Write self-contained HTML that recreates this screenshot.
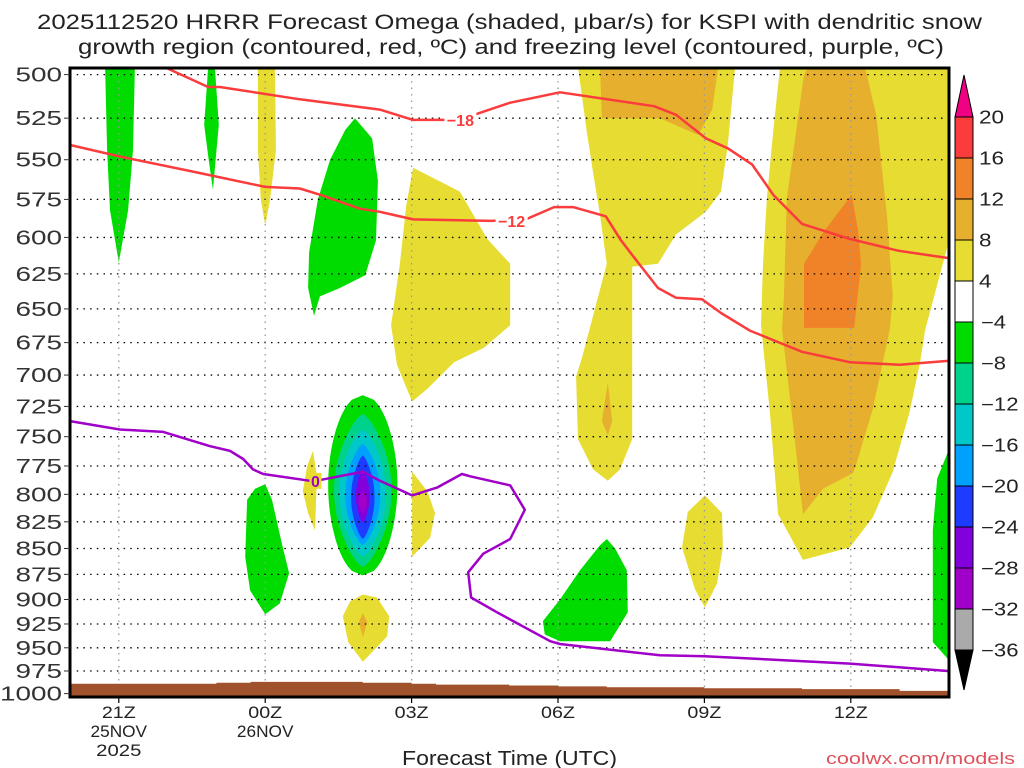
<!DOCTYPE html>
<html><head><meta charset="utf-8">
<style>
html,body{margin:0;padding:0;background:#fff;}
svg{display:block;font-family:"Liberation Sans",sans-serif;}
</style></head>
<body>
<svg id="chart" width="1024" height="768" viewBox="0 0 1024 768" xmlns="http://www.w3.org/2000/svg">
<text x="37" y="29" font-size="21" textLength="945" lengthAdjust="spacingAndGlyphs" fill="#222">2025112520 HRRR Forecast Omega (shaded, μbar/s) for KSPI with dendritic snow</text>
<text x="78" y="54" font-size="21" textLength="866" lengthAdjust="spacingAndGlyphs" fill="#222">growth region (contoured, red, ºC) and freezing level (contoured, purple, ºC)</text>
<g id="shade"></g>
<g id="grid"></g>
<g id="lines"></g>
<g id="axes"></g>
<g id="cbar"></g>
<text x="402" y="765" font-size="20" textLength="215" lengthAdjust="spacingAndGlyphs" fill="#222">Forecast Time (UTC)</text>
<text x="826" y="764" font-size="17" textLength="189" lengthAdjust="spacingAndGlyphs" fill="#e0505a">coolwx.com/models</text>
</svg>
<script>
// hours after 20Z 25 Nov; pressure in hPa
const pressureTicks=[500,525,550,575,600,625,650,675,700,725,750,775,800,825,850,875,900,925,950,975,1000];
const timeTicks=[1,4,7,10,13,16];
const timeLabels=[["21Z","25NOV","2025"],["00Z","26NOV"],["03Z"],["06Z"],["09Z"],["12Z"]];
const cbarLevels=[20,16,12,8,4,-4,-8,-12,-16,-20,-24,-28,-32,-36];
const cbarColors=["#fa3c3c","#f08228","#e6af2d","#e6dc32","#ffffff","#00dc00","#00d28c","#00c8c8","#00a0ff","#1e3cff","#8200dc","#a000c8","#aaaaaa"];
const shadeColors=["#e6dc32","#e6af2d","#f08228","#00dc00"];
const areaGreenA=[[0.72,496],[1.33,496],[1.29,544],[1.19,582],[1.0,617],[0.82,582],[0.76,544]];
const areaGreenB=[[2.83,496],[2.97,496],[3.05,529],[2.97,555],[2.93,569],[2.85,552],[2.75,529]];
const areaYellowC=[[3.85,496],[4.20,496],[4.22,544],[4.10,575],[4.0,592],[3.91,575],[3.85,544]];
const areaGreenD=[[5.84,525],[6.19,537],[6.31,563],[6.27,602],[6.05,626],[5.53,635],[5.12,641],[5.0,655],[4.88,635],[4.90,610],[5.08,575],[5.33,550],[5.64,532]];
const areaYellowE=[[7.03,555],[7.99,570],[8.55,601],[9.02,618],[9.02,662],[8.48,679],[7.87,690],[7.32,711],[7.01,721],[6.70,692],[6.58,662],[6.76,618],[6.89,579]];
const areaYellowG=[[10.41,496],[13.63,496],[13.48,541],[13.34,570],[13.03,583],[12.42,598],[12.05,618],[11.52,620],[11.52,752],[11.27,778],[11.02,788],[10.72,778],[10.41,752],[10.37,701],[10.49,687],[11.0,618],[10.86,585],[10.72,558],[10.59,533]];
const areaOrangeH=[[10.86,496],[13.28,496],[13.16,520],[12.87,535],[12.09,525],[10.90,525]];
const areaOrangeG2=[[11.02,706],[11.11,737],[11.02,749],[10.90,737]];
const areaYellowF=[[14.55,496],[17.99,496],[17.99,605],[17.52,666],[17.42,690],[17.21,729],[16.86,780],[16.45,821],[15.98,849],[15.02,861],[14.51,818],[14.34,729],[14.16,662],[14.20,618],[14.28,574],[14.41,533]];
const areaOrangeF2=[[15.12,496],[16.29,496],[16.52,523],[16.74,585],[16.86,641],[16.80,665],[16.45,727],[16.13,771],[16.05,781],[15.43,795],[15.02,818],[14.82,741],[14.59,665],[14.63,641],[14.69,574],[15.04,500]];
const areaDarkF3=[[16.02,572],[16.15,596],[16.21,618],[16.07,664],[15.04,664],[15.04,618],[15.45,596]];
const areaYellowI=[[13.01,801],[13.36,817],[13.38,849],[13.26,884],[13.01,908],[12.81,890],[12.54,849],[12.66,816]];
const areaGreenJ=[[9.69,922],[10.04,900],[10.45,871],[10.86,847],[11.0,841],[11.17,850],[11.41,871],[11.43,913],[11.07,943],[10.04,943],[9.73,936]];
const areaGreenK=[[17.99,763],[17.77,786],[17.68,833],[17.68,944],[17.99,962]];
const areaGreenL=[[4.0,791],[4.14,805],[4.34,845],[4.49,874],[4.30,904],[4.0,915],[3.69,891],[3.59,858],[3.63,805],[3.79,795]];
const areaYellowM=[[4.98,762],[5.06,784],[5.02,833],[4.88,817],[4.77,797],[4.86,775]];
const areaYellowN=[[7.01,780],[7.32,797],[7.48,817],[7.38,840],[7.01,858]];
const areaYellowO=[[6.0,895],[6.29,898],[6.54,917],[6.50,938],[6.0,965],[5.70,944],[5.59,917],[5.74,902]];
const areaOrangeO2=[[6.0,914],[6.09,923],[6.0,939],[5.92,923]];
const coreCenterHour=6.0;
const coreLevels=[[5,0.71,716,876],[6,0.59,731,868],[7,0.48,744,858],[8,0.36,756,847],[9,0.24,766,841],[10,0.14,778,826],[11,0.09,797,817]];
const lineMinus18=[[1.95,496],[2.83,507],[3.07,507],[4.71,514],[6.35,520],[7.03,526],[7.73,526],[8.28,523],[9.02,516],[10.04,510],[11.97,518],[12.42,523],[13.03,537],[13.48,543],[13.98,553],[14.41,572],[15.0,591],[15.98,601],[16.97,609],[17.99,614]];
const lineMinus12=[[0,541],[1.02,548],[2.46,557],[4.0,567],[4.71,568],[5.12,572],[5.94,581],[6.35,583],[7.03,588],[8.63,589],[9.34,588],[9.92,580],[10.31,580],[10.98,586],[11.29,602],[11.66,618],[12.05,635],[12.42,642],[12.95,643],[13.34,653],[13.93,666],[15.0,682],[15.98,690],[17.0,692],[17.99,689]];
const lineZero=[[0,737],[1.02,744],[1.91,746],[2.87,758],[3.28,762],[3.55,769],[3.75,778],[3.96,782],[4.92,788],[5.16,787],[5.88,781],[6.0,780],[6.35,788],[7.01,801],[7.52,794],[8.03,782],[8.20,784],[9.02,792],[9.32,814],[9.02,841],[8.47,855],[8.16,873],[8.22,898],[8.75,913],[9.84,943],[10.04,946],[12.09,958],[13.01,959],[15.98,967],[17.99,975]];
const labelMinus18=[8.0,526];
const labelMinus12=[9.05,589];
const labelZero=[5.03,788];
const surfHours=[0,1,2,3,3.7,5,6,7,7.5,8,9,10,11,12,13,14,15,16,17,18];
const surfP=[989,989,989,988,987,987,988,989,990,990,991,992,993,993,994,994,995,995,997,997];

const X0=70,X1=949,T0=68,B0=697;
function X(h){return X0+h*48.8;}
function Y(p){return 74.6+619*Math.log2(p/500);}
const NS="http://www.w3.org/2000/svg";
function mk(tag,parent,attrs){const e=document.createElementNS(NS,tag);for(const k in attrs)e.setAttribute(k,attrs[k]);parent.appendChild(e);return e;}
function pts(a){return a.map(d=>X(d[0]).toFixed(1)+","+Y(d[1]).toFixed(1)).join(" ");}

const shade=document.getElementById('shade');
const clip=mk('clipPath',mk('defs',document.getElementById('chart'),{}),{id:'plotclip'});
mk('rect',clip,{x:X0,y:T0,width:X1-X0,height:B0-T0});
shade.setAttribute('clip-path','url(#plotclip)');
const areas=[[0,areaYellowF],[1,areaOrangeF2],[2,areaDarkF3],[0,areaYellowG],[1,areaOrangeH],[1,areaOrangeG2],[0,areaYellowE],[0,areaYellowC],[3,areaGreenA],[3,areaGreenB],[3,areaGreenD],[0,areaYellowI],[3,areaGreenJ],[3,areaGreenK],[3,areaGreenL],[0,areaYellowM],[0,areaYellowN],[0,areaYellowO],[1,areaOrangeO2]];
areas.forEach(a=>{
  const e=mk('polygon',shade,{points:pts(a[1]),fill:shadeColors[a[0]]});
  
  
});
coreLevels.forEach((c,k)=>{
  const yt=Y(c[2]),yb=Y(c[3]),hw=c[1]*48.8,cx=X(coreCenterHour);const L=[],R=[];
  const ex=k===0?0.45:0.7;
  for(let i=0;i<=40;i++){const t=i/40;const y=yt+(yb-yt)*t;const w=hw*Math.pow(Math.sin(Math.PI*t),ex);L.push((cx-w).toFixed(1)+","+y.toFixed(1));R.unshift((cx+w).toFixed(1)+","+y.toFixed(1));}
  const e=mk('polygon',shade,{points:L.concat(R).join(" "),fill:cbarColors[c[0]]});
  
  
});

const grid=document.getElementById('grid');
pressureTicks.forEach(p=>{ if(p<1000){const e=mk('line',grid,{x1:X0,x2:X1,y1:Y(p),y2:Y(p),stroke:'#000','stroke-width':1.3,'stroke-dasharray':'1.5 5.2'});
  }});
timeTicks.forEach(h=>{const e=mk('line',grid,{x1:X(h),x2:X(h),y1:T0,y2:B0,stroke:'#999','stroke-width':1.3,'stroke-dasharray':'1.5 5'});
  });

const lines=document.getElementById('lines');
lines.setAttribute('clip-path','url(#plotclip)');
[[lineMinus18,'#fa3c3c'],[lineMinus12,'#fa3c3c'],[lineZero,'#a000c8']].forEach(l=>{
  const e=mk('polyline',lines,{points:pts(l[0]),fill:'none',stroke:l[1],'stroke-width':2.5,'stroke-linejoin':'round'});
  
});
[[labelMinus18,'−18','#fa3c3c','#fff'],[labelMinus12,'−12','#fa3c3c','#fff'],[labelZero,'0','#a000c8','#e6dc32']].forEach(l=>{
  const x=X(l[0][0]),y=Y(l[0][1]);const w=l[1].length*10+2;
  mk('rect',lines,{x:x-w/2,y:y-8,width:w,height:16,fill:l[3]});
  const t=mk('text',lines,{x:x,y:y+6,'font-size':16,'font-weight':'bold','text-anchor':'middle',fill:l[2]});t.textContent=l[1];
  
});
let tp=[[X(surfHours[0]),B0]];
surfHours.forEach((h,i)=>{const x1=X(h),x2=X(i<surfHours.length-1?surfHours[i+1]:18);tp.push([x1,Y(surfP[i])],[x2,Y(surfP[i])]);});
tp.push([X1,B0]);
const terr=mk('polygon',lines,{points:tp.map(q=>q[0].toFixed(1)+","+q[1].toFixed(1)).join(" "),fill:'#a0522d'});


const axes=document.getElementById('axes');
const fr=mk('rect',axes,{x:X0,y:T0,width:X1-X0,height:B0-T0,fill:'none',stroke:'#000','stroke-width':3});

pressureTicks.forEach(p=>{mk('line',axes,{x1:X0-6,x2:X0,y1:Y(p),y2:Y(p),stroke:'#333','stroke-width':1});
  const s=String(p);
  const t=mk('text',axes,{x:X0-8-s.length*15.5,y:Y(p)+7,'font-size':20,textLength:s.length*15.5,lengthAdjust:'spacingAndGlyphs',fill:'#333'});t.textContent=s;
  });
timeTicks.forEach((h,i)=>{mk('line',axes,{x1:X(h),x2:X(h),y1:B0,y2:B0+6,stroke:'#000','stroke-width':1.2});
  timeLabels[i].forEach((s,j)=>{const L=s.length*11.3;const t=mk('text',axes,{x:X(h)-L/2,y:718+j*19,'font-size':17,textLength:L,lengthAdjust:'spacingAndGlyphs',fill:'#222'});t.textContent=s;
  });});

const cb=document.getElementById('cbar');
const cx0=955,cw=18,cy0=117,ch=41;
cbarColors.forEach((c,i)=>{const e=mk('rect',cb,{x:cx0,y:cy0+i*ch,width:cw,height:ch,fill:c,stroke:'#000','stroke-width':1});
  });
const up=mk('polygon',cb,{points:`${cx0},${cy0} ${cx0+cw},${cy0} ${cx0+cw/2},${cy0-42}`,fill:'#f00082',stroke:'#000','stroke-width':1});

const yb=cy0+13*ch;
const dn=mk('polygon',cb,{points:`${cx0},${yb} ${cx0+cw},${yb} ${cx0+cw/2},${yb+40}`,fill:'#000',stroke:'#000','stroke-width':1});

cbarLevels.forEach((v,i)=>{const s=v<0?'−'+(-v):String(v);const t=mk('text',cb,{x:v<0?981:979,y:cy0+i*ch+6.5,'font-size':18,textLength:s.length*12.5,lengthAdjust:'spacingAndGlyphs',fill:'#222'});t.textContent=s;
  });
</script>
</body></html>
